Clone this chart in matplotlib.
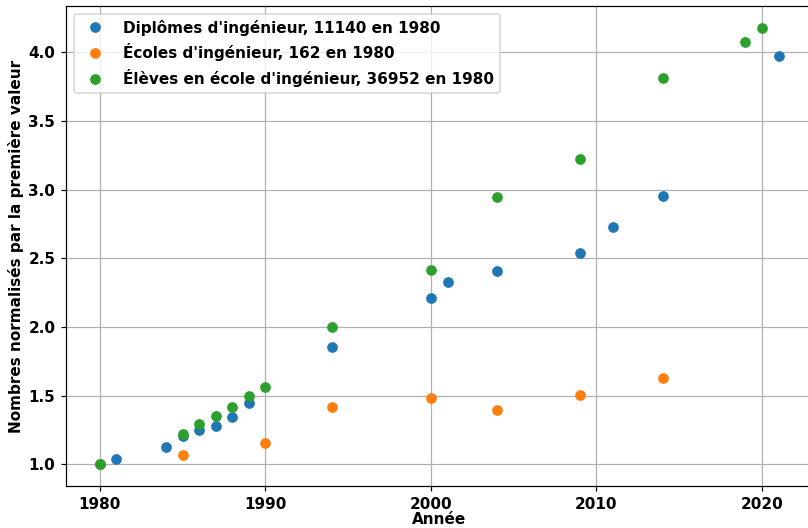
import matplotlib
matplotlib.use("Agg")
import matplotlib.pyplot as plt

plt.rcParams['font.weight'] = 'bold'
plt.rcParams['axes.labelweight'] = 'bold'
plt.rcParams['font.size'] = 10

diplomes_years = [1980, 1981, 1984, 1985, 1986, 1987, 1988, 1989, 1994, 2000, 2001, 2004, 2009, 2011, 2014, 2021]
diplomes_vals = [1.0, 1.036, 1.124, 1.204, 1.248, 1.279, 1.341, 1.445, 1.854, 2.210, 2.326, 2.409, 2.538, 2.729, 2.950, 3.970]

ecoles_years = [1980, 1985, 1990, 1994, 2000, 2004, 2009, 2014]
ecoles_vals = [1.0, 1.068, 1.154, 1.420, 1.481, 1.395, 1.506, 1.630]

eleves_years = [1980, 1985, 1986, 1987, 1988, 1989, 1990, 1994, 2000, 2004, 2009, 2014, 2019, 2020]
eleves_vals = [1.0, 1.219, 1.294, 1.350, 1.416, 1.497, 1.562, 2.0, 2.416, 2.949, 3.226, 3.810, 4.078, 4.178]

labels = ["Diplômes d'ingénieur, 11140 en 1980",
          "Écoles d'ingénieur, 162 en 1980",
          "Élèves en école d'ingénieur, 36952 en 1980"]

DPI = 110
fig = plt.figure(figsize=(808/DPI, 528/DPI), dpi=DPI)
ax = fig.add_axes([66/808, 42/528, (812.5-66)/808, (486-6)/528])
ax.plot(diplomes_years, diplomes_vals, 'o', label=labels[0])
ax.plot(ecoles_years, ecoles_vals, 'o', label=labels[1])
ax.plot(eleves_years, eleves_vals, 'o', label=labels[2])
ax.grid(True)
ax.set_xlabel("Année", labelpad=0.5)
ax.set_ylabel("Nombres normalisés par la première valeur", labelpad=2.5)
ax.legend(loc='upper left')
fig.savefig("out.png", dpi=DPI)
